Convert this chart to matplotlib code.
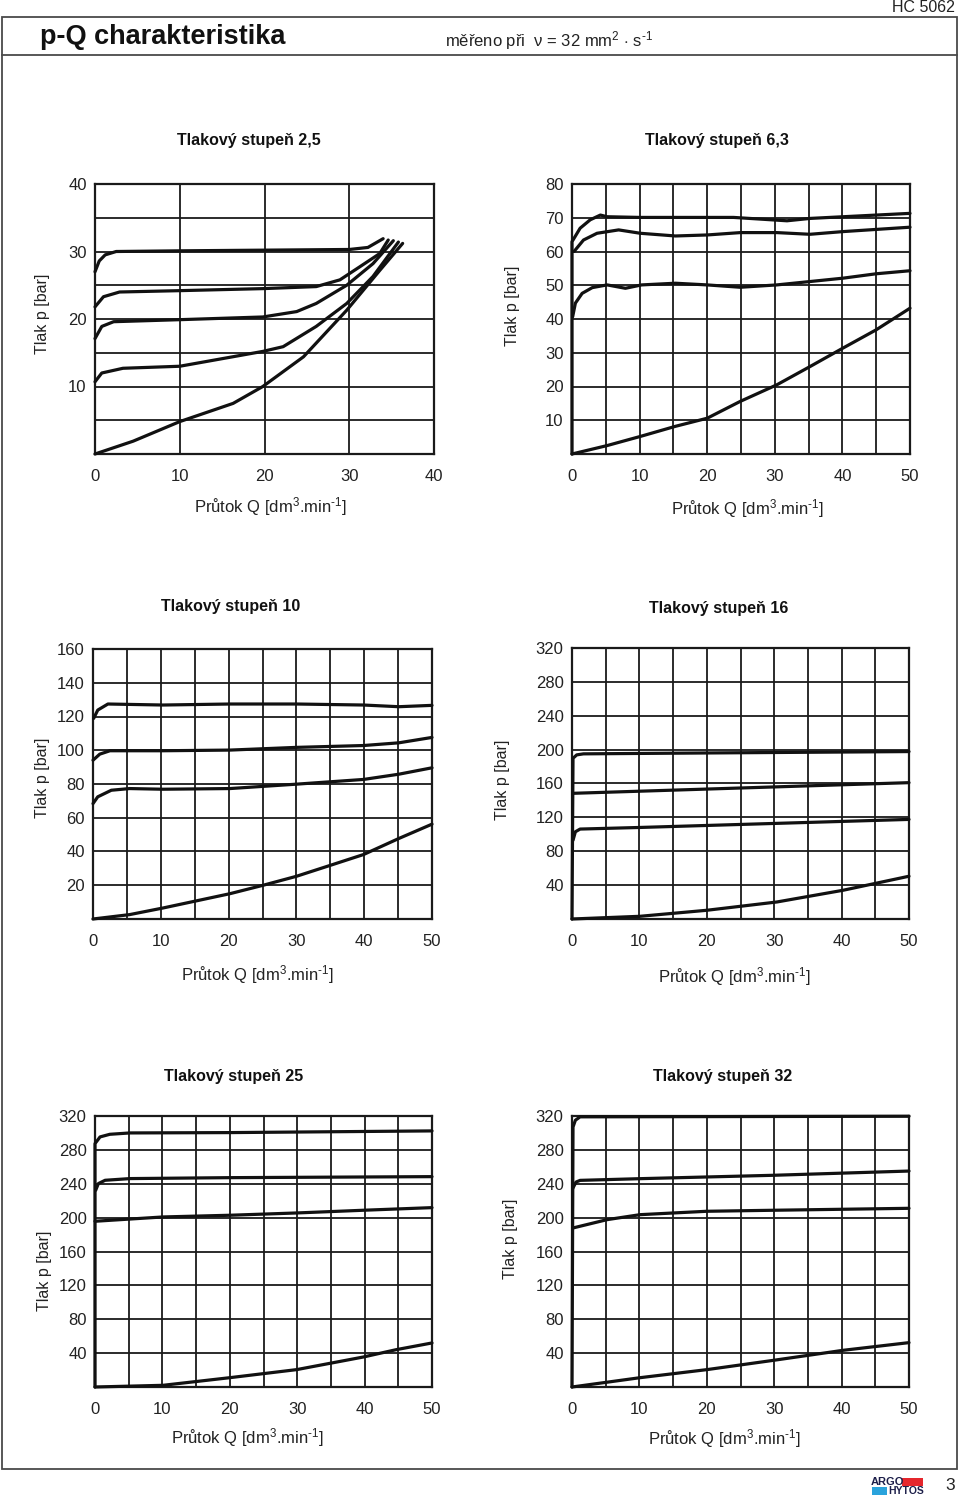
import matplotlib
matplotlib.use("Agg")
import matplotlib.pyplot as plt
from matplotlib.patches import Rectangle

plt.rcParams['font.family'] = ['Liberation Sans', 'DejaVu Sans']
plt.rcParams['mathtext.fontset'] = 'custom'
plt.rcParams['mathtext.rm'] = 'Liberation Sans'
plt.rcParams['mathtext.it'] = 'Liberation Sans'
plt.rcParams['mathtext.bf'] = 'Liberation Sans:bold'

# --- data: flow Q [dm3/min] vs pressure p [bar] ---
# Tlakovy stupen 2,5
q_25 = [[0, 0.5, 1.2, 2.5, 10, 20, 30, 32.2, 34.0],
        [0, 1.0, 2.9, 10, 19.8, 26.1, 28.9, 31.2, 33.6, 34.6],
        [0, 0.8, 2.2, 10, 19.8, 23.8, 26.1, 29.7, 32.8, 35.2],
        [0, 0.8, 3.3, 10, 19.8, 22.2, 26.1, 29.7, 32.8, 35.8],
        [0, 4.5, 10, 16.3, 19.8, 24.6, 29.7, 33.6, 36.3]]
p_25 = [[27.0, 28.6, 29.5, 30.0, 30.1, 30.2, 30.3, 30.6, 31.9],
        [21.8, 23.3, 24.0, 24.2, 24.5, 24.8, 25.8, 27.7, 29.7, 31.7],
        [17.1, 18.9, 19.6, 19.9, 20.3, 21.1, 22.3, 25.0, 28.2, 31.6],
        [10.7, 12.0, 12.7, 13.0, 15.2, 15.9, 18.9, 22.3, 26.3, 31.4],
        [0, 1.9, 4.8, 7.5, 10.0, 14.4, 21.3, 27.2, 31.2]]

# Tlakovy stupen 6,3
q_63 = [[0, 0, 1.2, 2.7, 4.2, 5.2, 10, 23.9, 31.8, 35.2, 40.1, 50],
        [0.3, 1.7, 3.7, 6.9, 10.1, 15.3, 20, 24.9, 30.3, 35.2, 40.1, 50],
        [0.1, 0.5, 1.5, 3.0, 5.2, 7.9, 10.3, 15.3, 20, 24.9, 30.3, 35.2, 40.1, 45, 50],
        [0, 5.2, 10.1, 15.3, 20, 24.9, 30.3, 35.2, 40.1, 45, 50]]
p_63 = [[0, 62.9, 66.9, 69.4, 70.8, 70.3, 70.1, 70.1, 69.1, 69.8, 70.3, 71.3],
        [60.0, 63.4, 65.4, 66.4, 65.4, 64.6, 64.9, 65.6, 65.6, 65.1, 65.9, 67.2],
        [40.7, 44.7, 47.6, 49.3, 50.1, 49.1, 50.1, 50.6, 50.1, 49.4, 50.1, 51.1, 52.1, 53.4, 54.3],
        [0, 2.5, 5.2, 8.2, 10.6, 15.6, 20.5, 25.9, 31.4, 36.8, 43.2]]

# Tlakovy stupen 10
q_10 = [[0.1, 0.7, 2.2, 10.3, 20.2, 30, 39.9, 45.1, 50],
        [0, 1.0, 2.5, 10.3, 20.2, 30, 39.9, 45.1, 50],
        [0, 0.7, 2.7, 5.4, 10.3, 20.2, 30, 39.9, 45.1, 50],
        [0, 5.4, 10.3, 20.2, 25.1, 30, 35, 39.9, 45.1, 50]]
p_10 = [[118.9, 123.8, 127.4, 126.8, 127.4, 127.4, 126.8, 125.8, 126.6],
        [94.1, 97.7, 99.7, 99.7, 100.1, 101.7, 102.8, 104.4, 107.6],
        [68.4, 72.4, 76.3, 77.3, 76.9, 77.3, 79.9, 82.7, 85.8, 89.6],
        [0, 2.6, 6.5, 15.0, 20.0, 25.3, 31.8, 38.2, 47.7, 56.2]]

# Tlakovy stupen 16
q_16 = [[0, 0.15, 0.7, 1.7, 10.1, 50],
        [0.1, 50],
        [0.15, 0.5, 1.2, 10.1, 50],
        [0, 10.1, 20, 30.4, 40.2, 50]]
p_16 = [[0, 189.8, 193.8, 195.0, 195.5, 197.7],
        [148.4, 161.0],
        [93.0, 103.0, 106.2, 108.1, 117.6],
        [0, 3.2, 10.3, 20.1, 33.9, 50.5]]

# Tlakovy stupen 25
q_250 = [[0, 0, 0.75, 2.2, 5.2, 20, 50],
         [0.1, 0.5, 1.5, 5.2, 20, 50],
         [0, 10.1, 20, 29.9, 39.8, 50],
         [0, 10.1, 20, 29.9, 39.8, 44.7, 50]]
p_250 = [[0, 287.4, 295.3, 298.4, 300.0, 300.4, 302.4],
         [232.3, 240.2, 244.1, 246.1, 247.2, 248.4],
         [195.7, 200.8, 202.8, 205.5, 208.7, 211.8],
         [0, 2.0, 11.0, 20.5, 35.4, 44.1, 52.0]]

# Tlakovy stupen 32
q_32 = [[0, 0.15, 0.5, 1.2, 50],
        [0.1, 0.6, 1.2, 10.1, 29.9, 50],
        [0.15, 5.2, 10.1, 20, 29.9, 50],
        [0, 10.1, 20, 29.9, 40.2, 50]]
p_32 = [[0, 307.0, 315.0, 319.0, 319.7],
        [234.3, 242.0, 244.0, 246.0, 250.0, 255.0],
        [187.8, 197.6, 203.5, 207.5, 208.7, 211.0],
        [0, 11.0, 20.5, 31.5, 43.3, 52.4]]

W, H = 960, 1501
fig = plt.figure(figsize=(W / 100, H / 100), dpi=100)

# page overlay in pixel coordinates
page = fig.add_axes([0, 0, 1, 1])
page.set_xlim(0, W)
page.set_ylim(H, 0)
page.axis('off')

frame_col = '#4a4a4a'
page.add_patch(Rectangle((2, 17), 955, 1452, fill=False, lw=1.3, ec=frame_col))
page.plot([2, 957], [55, 55], color=frame_col, lw=1.3)
page.text(955, 8, 'HC 5062', ha='right', va='center', fontsize=11.5, color='#222')
page.text(40, 37, 'p-Q charakteristika', ha='left', va='center', fontsize=19.5,
          fontweight='bold', color='#111')
page.text(445, 41, r'měřeno při  ν = 32 mm$^{2}$ $\cdot$ s$^{\text{-1}}$', ha='left',
          va='center', fontsize=12, color='#222')

# logo + page number
page.text(871, 1482, 'ARGO', ha='left', va='center', fontsize=8, fontweight='heavy',
          color='#1d1f4a')
page.add_patch(Rectangle((902, 1478), 21, 8, color='#e5262c', lw=0))
page.add_patch(Rectangle((872, 1487), 15, 8, color='#2aa3dc', lw=0))
page.text(924, 1491.5, 'HYTOS', ha='right', va='center', fontsize=7.5, fontweight='heavy',
          color='#1d1f4a')
page.text(955, 1486, '3', ha='right', va='center', fontsize=12.5, color='#222')

q_label = r'Průtok Q [dm$^{3}$.min$^{\text{-1}}$]'
ink = '#1a1a1a'


def draw_panel(box, title, title_xy, ylab_xy, xlab_xy, qmax, qgrid, pmax, pgrid, plabel,
               q_curves, p_curves):
    left, top, right, bottom = box
    ax = fig.add_axes([left / W, 1 - bottom / H, (right - left) / W, (bottom - top) / H])
    ax.set_xlim(0, qmax)
    ax.set_ylim(0, pmax)
    xt = list(range(0, qmax + 1, qgrid))
    yt = list(range(0, pmax + 1, pgrid))
    ax.set_xticks(xt)
    ax.set_xticklabels([str(v) if v % 10 == 0 else '' for v in xt])
    ax.set_yticks(yt)
    ax.set_yticklabels([str(v) if (v % plabel == 0 and v > 0) else '' for v in yt])
    ax.tick_params(length=0, labelsize=12, colors='#222')
    ax.tick_params(axis='y', pad=6)
    ax.tick_params(axis='x', pad=11)
    ax.grid(True, color=ink, lw=1.3)
    ax.set_axisbelow(True)
    for s in ax.spines.values():
        s.set_linewidth(1.6)
        s.set_color(ink)
    for q, p in zip(q_curves, p_curves):
        ax.plot(q, p, color='#111', lw=2.3, solid_joinstyle='round',
                solid_capstyle='round', clip_on=False, zorder=3)
    page.text(title_xy[0], title_xy[1], title, ha='center', va='center', fontsize=11.5,
              fontweight='bold', color='#111')
    page.text(ylab_xy[0], ylab_xy[1], 'Tlak p [bar]', ha='center', va='center',
              rotation=90, fontsize=11.5, color='#222')
    page.text(xlab_xy[0], xlab_xy[1], q_label, ha='center', va='center', fontsize=12,
              color='#222')
    return ax


draw_panel((95, 184, 434, 454), 'Tlakový stupeň 2,5', (249, 140), (42, 314), (270, 507),
           40, 10, 40, 5, 10, q_25, p_25)
draw_panel((572, 184, 910, 454), 'Tlakový stupeň 6,3', (717, 140), (513, 306), (747, 509),
           50, 5, 80, 10, 10, q_63, p_63)
draw_panel((93, 649, 432, 919), 'Tlakový stupeň 10', (231, 607), (42, 778), (257, 975),
           50, 5, 160, 20, 20, q_10, p_10)
draw_panel((572, 648, 909, 919), 'Tlakový stupeň 16', (719, 609), (503, 780), (734, 977),
           50, 5, 320, 40, 40, q_16, p_16)
draw_panel((95, 1116, 432, 1387), 'Tlakový stupeň 25', (234, 1076), (44, 1271), (247, 1438),
           50, 5, 320, 40, 40, q_250, p_250)
draw_panel((572, 1116, 909, 1387), 'Tlakový stupeň 32', (723, 1077), (510, 1239), (724, 1439),
           50, 5, 320, 40, 40, q_32, p_32)

fig.savefig('out.png', dpi=100)
